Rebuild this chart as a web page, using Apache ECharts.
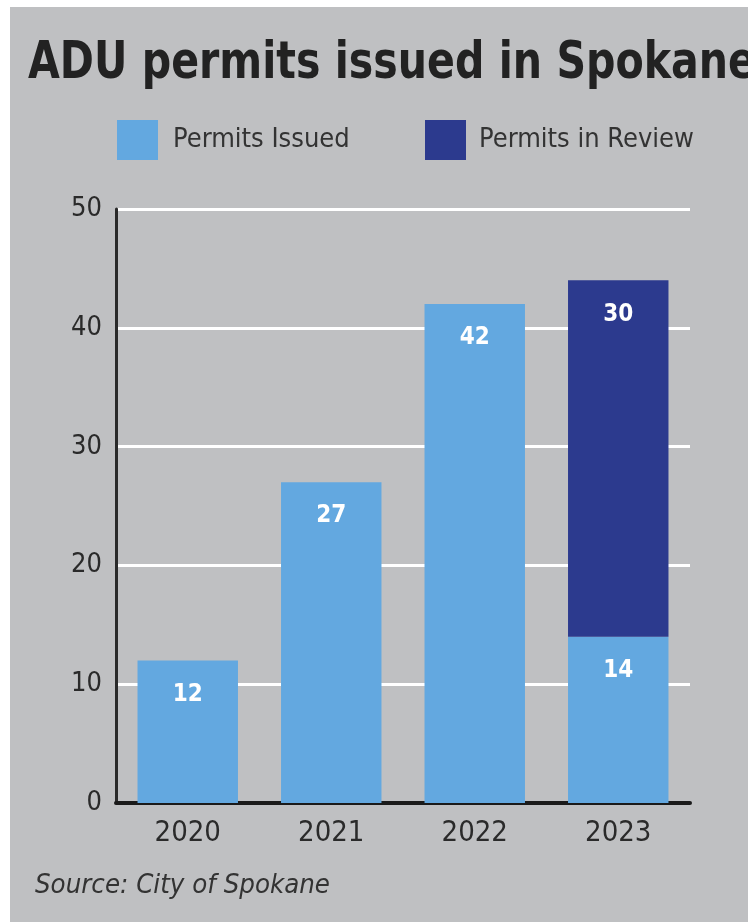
<!DOCTYPE html>
<html><head><meta charset="utf-8">
<style>html,body{margin:0;padding:0;background:#fff;}#c{width:748px;height:922px;}</style>
<script src="https://cdn.jsdelivr.net/npm/echarts@6/dist/echarts.min.js"></script>
</head><body><div id="c"></div>
<script>
const categories = ['2020', '2021', '2022', '2023'];
const permitsIssued = [12, 27, 42, 14];
const permitsInReview = [null, null, null, 30];
const yTicks = [0, 10, 20, 30, 40, 50];
const titleText = 'ADU permits issued in Spokane';
const sourceText = 'Source: City of Spokane';

const FONT = "'DejaVu Sans Condensed', 'Roboto', sans-serif";
const LIGHT = '#63a8e0';
const DARK = '#2c3a8e';
const BG = '#bfc0c2';

function fitScale(text, font, target) {
  const ctx = document.createElement('canvas').getContext('2d');
  ctx.font = font;
  return target / ctx.measureText(text).width;
}
const titleFont = "bold 52px " + FONT;
const titleScale = fitScale(titleText, titleFont, 728);
const srcFont = "italic 26px " + FONT;
const srcScale = fitScale(sourceText, srcFont, 295);

const chart = echarts.init(document.getElementById('c'), null, {renderer: 'canvas'});
chart.setOption({
  backgroundColor: BG,
  animation: false,
  graphic: [
    {type: 'rect', left: 0, top: 0, shape: {width: 10, height: 922}, style: {fill: '#fff'}, z: 100},
    {type: 'rect', left: 0, top: 0, shape: {width: 748, height: 7}, style: {fill: '#fff'}, z: 100},
    {type: 'text', x: 28, y: 38, scaleX: titleScale, style: {text: titleText, font: titleFont, fill: '#222'}},
    {type: 'text', x: 35, y: 873, scaleX: srcScale, style: {text: sourceText, font: srcFont, fill: '#333'}}
  ],
  legend: [
    {left: 117, top: 120, padding: 0, itemWidth: 41, itemHeight: 40, icon: 'rect', data: ['Permits Issued'],
     textStyle: {fontFamily: FONT, fontSize: 27, color: '#333', padding: [0, 0, 0, 10]}},
    {left: 425, top: 120, padding: 0, itemWidth: 41, itemHeight: 40, icon: 'rect', data: ['Permits in Review'],
     textStyle: {fontFamily: FONT, fontSize: 27, color: '#333', padding: [0, 0, 0, 8]}}
  ],
  grid: {left: 116, right: 58, top: 209, bottom: 119, containLabel: false},
  xAxis: {
    type: 'category', data: categories,
    axisLine: {lineStyle: {color: '#1a1a1a', width: 4}},
    axisTick: {show: false},
    axisLabel: {fontFamily: FONT, fontSize: 29, color: '#2a2a2a', margin: 16}
  },
  yAxis: {
    type: 'value', min: yTicks[0], max: yTicks[yTicks.length - 1], interval: 10,
    axisLine: {show: true, lineStyle: {color: '#2a2a2a', width: 3}},
    axisTick: {show: false},
    axisLabel: {fontFamily: FONT, fontSize: 27, color: '#2a2a2a', margin: 14},
    splitLine: {lineStyle: {color: '#ffffff', width: 3}}
  },
  series: [
    {name: 'Permits Issued', type: 'bar', stack: 'p', data: permitsIssued, barWidth: '70%',
     itemStyle: {color: LIGHT},
     label: {show: true, position: 'insideTop', distance: 22, color: '#fff', fontFamily: FONT, fontWeight: 'bold', fontSize: 24}},
    {name: 'Permits in Review', type: 'bar', stack: 'p', data: permitsInReview, barWidth: '70%',
     itemStyle: {color: DARK},
     label: {show: true, position: 'insideTop', distance: 22, color: '#fff', fontFamily: FONT, fontWeight: 'bold', fontSize: 24}}
  ]
});
</script></body></html>
